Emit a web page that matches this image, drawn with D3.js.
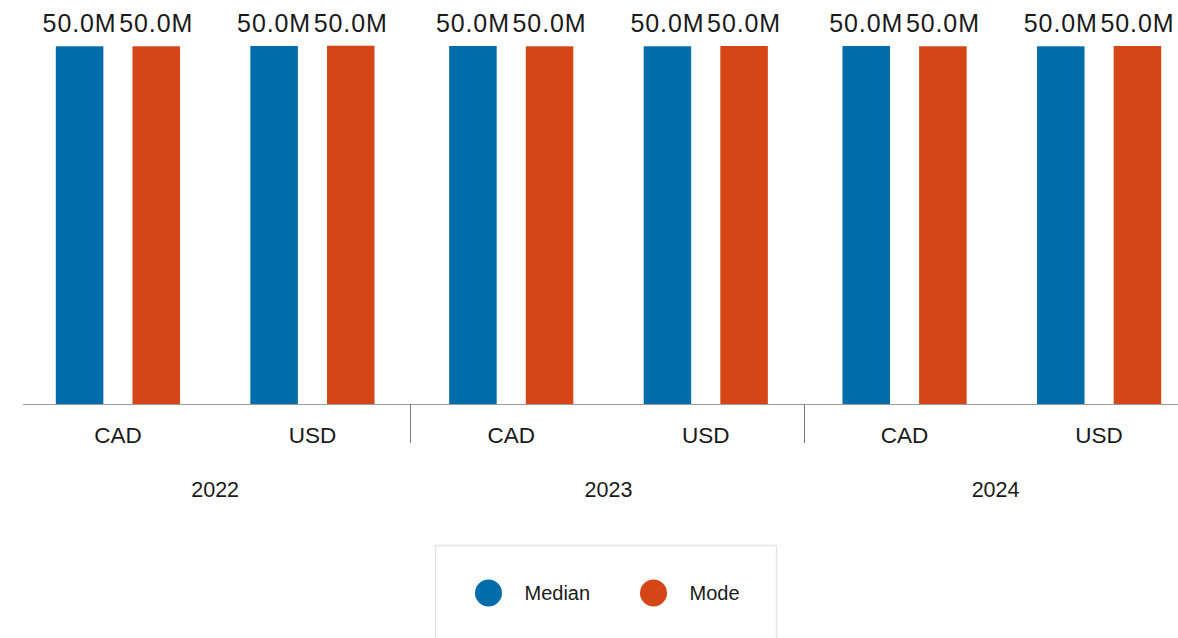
<!DOCTYPE html>
<html>
<head>
<meta charset="utf-8">
<script src="https://cdn.jsdelivr.net/npm/d3@7"></script>
<style>
  html, body { margin: 0; padding: 0; background: #fff; }
  svg { display: block; font-family: "Liberation Sans", Arial, sans-serif; }
</style>
</head>
<body>
<svg id="chart" width="1178" height="638"></svg>
<script>
// Grouped bars: year -> currency -> statistic
const years = ["2022", "2023", "2024"];
const currencies = ["CAD", "USD"];
const seriesNames = ["Median", "Mode"];
const seriesColors = ["#006dab", "#d64516"];

// values in millions, per year, per currency: [Median, Mode]
const values2022 = { CAD: [49.96, 49.96], USD: [50.0, 50.04] };
const values2023 = { CAD: [50.0, 49.96], USD: [49.96, 50.0] };
const values2024 = { CAD: [50.0, 49.96], USD: [49.96, 50.0] };
const valuesByYear = [values2022, values2023, values2024];

const width = 1178, height = 638;
const baseline = 404;

const svg = d3.select("#chart");

const x0 = d3.scaleBand().domain(years).range([18.5, 1198.5]).paddingInner(0).paddingOuter(0);
const x1 = d3.scaleBand().domain(currencies).range([0, x0.bandwidth()]).paddingInner(0).paddingOuter(0.011);
const x2 = d3.scaleBand().domain(seriesNames).range([0, x1.bandwidth()]).paddingInner(0.38).paddingOuter(0.459);
const y = d3.scaleLinear().domain([0, 50]).range([baseline, 46]);

const fmt = v => d3.format(".1f")(v) + "M";

const rows = [];
years.forEach((yr, i) => {
  currencies.forEach(cur => {
    seriesNames.forEach((s, k) => {
      rows.push({ year: yr, cur, series: s, value: valuesByYear[i][cur][k], color: seriesColors[k] });
    });
  });
});

const bx = d => x0(d.year) + x1(d.cur) + x2(d.series);

svg.append("g").selectAll("rect").data(rows).join("rect")
  .attr("x", bx)
  .attr("y", d => y(d.value))
  .attr("width", x2.bandwidth())
  .attr("height", d => baseline - y(d.value))
  .attr("fill", d => d.color);

svg.append("g").selectAll("text").data(rows).join("text")
  .attr("x", d => bx(d) + x2.bandwidth() / 2)
  .attr("y", 32)
  .attr("text-anchor", "middle")
  .attr("font-size", 25)
  .attr("letter-spacing", 0.9)
  .attr("fill", "#1a1a1a")
  .text(d => fmt(d.value));

// axis baseline
svg.append("line")
  .attr("x1", 23).attr("x2", width)
  .attr("y1", baseline + 0.5).attr("y2", baseline + 0.5)
  .attr("stroke", "#9a9a9a").attr("stroke-width", 1.2);

// year separators
svg.append("g").selectAll("line").data(years.slice(1)).join("line")
  .attr("x1", d => Math.floor(x0(d)) - 0.5).attr("x2", d => Math.floor(x0(d)) - 0.5)
  .attr("y1", baseline).attr("y2", 443)
  .attr("stroke", "#777").attr("stroke-width", 1);

// currency labels
const curLabels = [];
years.forEach(yr => currencies.forEach(cur => curLabels.push({ yr, cur })));
svg.append("g").selectAll("text").data(curLabels).join("text")
  .attr("x", d => x0(d.yr) + x1(d.cur) + x1.bandwidth() / 2)
  .attr("y", 443)
  .attr("text-anchor", "middle")
  .attr("font-size", 22.5)
  .attr("fill", "#1a1a1a")
  .text(d => d.cur);

// year labels, kept inside the visible width
svg.append("g").selectAll("text").data(years).join("text")
  .attr("x", d => (x0(d) + Math.min(x0(d) + x0.bandwidth(), width + 8)) / 2)
  .attr("y", 497)
  .attr("text-anchor", "middle")
  .attr("font-size", 21.5)
  .attr("fill", "#1a1a1a")
  .text(d => d);

// legend
const legend = svg.append("g");
legend.append("rect")
  .attr("x", 435.5).attr("y", 545.5).attr("width", 341).attr("height", 110)
  .attr("fill", "#fff").attr("stroke", "#e4e4e4").attr("stroke-width", 1.5);
const lx = [488.5, 653.5];
const items = legend.selectAll("g").data(seriesNames).join("g")
  .attr("transform", (d, i) => `translate(${lx[i]},593)`);
items.append("circle").attr("r", 13.5).attr("fill", (d, i) => seriesColors[i]);
items.append("text")
  .attr("x", 36).attr("y", 7)
  .attr("font-size", 20)
  .attr("fill", "#1a1a1a")
  .text(d => d);
</script>
</body>
</html>
